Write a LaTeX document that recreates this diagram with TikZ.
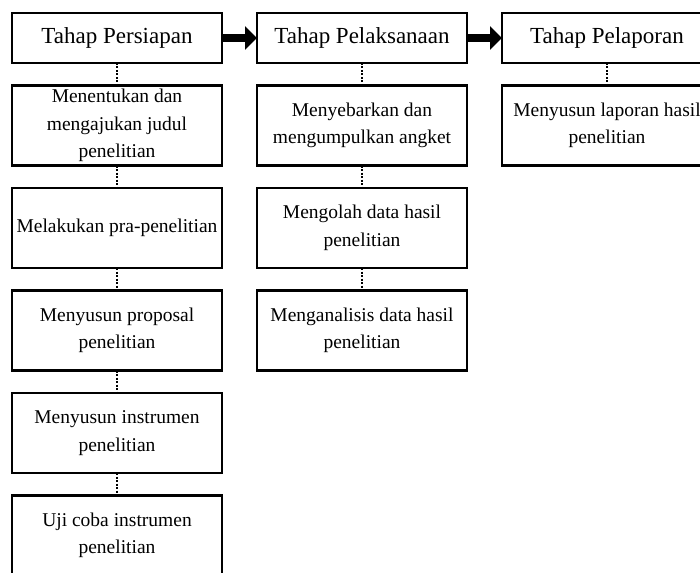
\documentclass[tikz,border=0pt]{standalone}
\usepackage{fontspec}
\setmainfont{Liberation Serif}
\usetikzlibrary{arrows.meta, positioning}

\begin{document}
\begin{tikzpicture}[x=1pt, y=1pt,
    node distance=22.5pt and 35pt,
    stage_node/.style={rectangle, draw, line width=2.9pt, outer sep=0pt, inner sep=0pt,
        minimum width=210pt, minimum height=50pt, font=\fontsize{23}{27}\selectfont},
    task_node/.style={rectangle, draw, line width=2.9pt, outer sep=0pt, inner sep=0pt, align=center,
        minimum width=210pt, minimum height=80pt, font=\fontsize{19.5}{27.5}\selectfont},
    link/.style={line width=2.2pt, dash pattern=on 2pt off 1.5pt},
    flow/.style={line width=8pt, -{Triangle[length=12pt, width=23pt]}},
    ]
    \useasboundingbox (0,0) rectangle (700,-572);
    % Nodes
    \node[stage_node] (persiapan) at (117,-38) {Tahap Persiapan};
    \node[stage_node] (pelaksanaan) [right=of persiapan] {Tahap Pelaksanaan};
    \node[stage_node] (pelaporan) [right=of pelaksanaan] {Tahap Pelaporan};

    \node[task_node] (judul) [below=of persiapan] {Menentukan dan\\mengajukan judul\\penelitian};
    \node[task_node] (pra) [below=of judul] {Melakukan pra-penelitian};
    \node[task_node] (proposal) [below=of pra] {Menyusun proposal\\penelitian};
    \node[task_node] (instrumen) [below=of proposal] {Menyusun instrumen\\penelitian};
    \node[task_node] (ujicoba) [below=of instrumen] {Uji coba instrumen\\penelitian};

    \node[task_node] (angket) [below=of pelaksanaan] {Menyebarkan dan\\mengumpulkan angket};
    \node[task_node] (olah) [below=of angket] {Mengolah data hasil\\penelitian};
    \node[task_node] (analisis) [below=of olah] {Menganalisis data hasil\\penelitian};

    \node[task_node] (laporan) [below=of pelaporan] {Menyusun laporan hasil\\penelitian};

    % Arrows
    \draw[flow] (persiapan) -- (pelaksanaan);
    \draw[flow] (pelaksanaan) -- (pelaporan);

    % Dotted links
    \draw[link] (persiapan) -- (judul); \draw[link] (judul) -- (pra);
    \draw[link] (pra) -- (proposal); \draw[link] (proposal) -- (instrumen);
    \draw[link] (instrumen) -- (ujicoba);
    \draw[link] (pelaksanaan) -- (angket); \draw[link] (angket) -- (olah);
    \draw[link] (olah) -- (analisis);
    \draw[link] (pelaporan) -- (laporan);
\end{tikzpicture}
\end{document}
